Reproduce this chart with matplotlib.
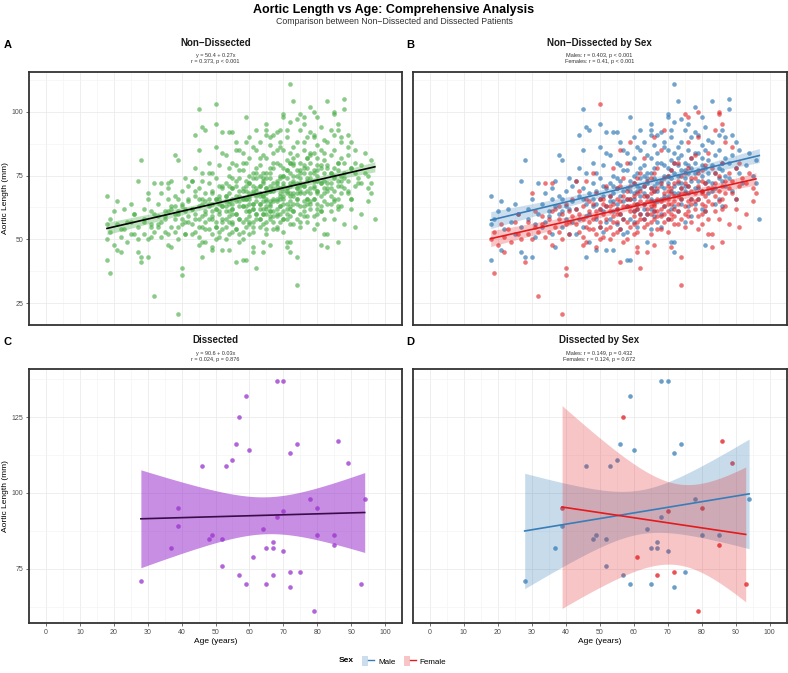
import numpy as np
import matplotlib.pyplot as plt
from matplotlib.patches import Patch
from matplotlib.lines import Line2D
from matplotlib.legend_handler import HandlerTuple

plt.rcParams['font.family'] = ['Liberation Sans', 'DejaVu Sans']

# Non-dissected patients, (age, aortic length in mm)
male_points = [
    (18, 67), (18, 42), (18, 56), (19, 58), (20, 61), (21, 65), (21, 46), (22, 54),
    (23, 62), (24, 57), (25, 52), (25, 64), (26, 60), (27, 73), (27, 45), (27, 55),
    (28, 81), (28, 43), (29, 58), (29, 62), (30, 43), (30, 66), (31, 56), (32, 72), (32, 60), (31, 51),
    (33, 64), (33, 55), (34, 68), (35, 59), (35, 61), (36, 52), (36, 70), (37, 47), (37, 73), (37, 63),
    (34, 57), (36, 66),
    (38, 83), (39, 81), (38, 60), (39, 55), (39, 66), (40, 69), (40, 58), (41, 62), (41, 74), (41, 52),
    (42, 65), (42, 71), (42, 57), (40, 63), (38, 67), (39, 61),
    (44, 91), (45, 85), (45, 101), (46, 94), (47, 93), (46, 43), (43, 73), (43, 62), (44, 58), (44, 67),
    (45, 70), (45, 55), (46, 64), (46, 76), (47, 60), (47, 68), (43, 52), (44, 78), (47, 49), (46, 59), (45, 66),
    (50, 95), (52, 92), (52, 84), (49, 46), (52, 46), (48, 72), (48, 63), (49, 58), (49, 69), (50, 66),
    (50, 74), (50, 55), (51, 61), (51, 79), (51, 67), (52, 70), (52, 57), (48, 80), (49, 76), (50, 62),
    (51, 53), (48, 66), (49, 64), (51, 71), (52, 63), (50, 86),
    (54, 92), (55, 92), (54, 46), (53, 65), (53, 72), (53, 58), (54, 68), (54, 75), (54, 61), (55, 70),
    (55, 64), (55, 80), (55, 56), (56, 67), (56, 73), (56, 88), (56, 60), (57, 69), (57, 77), (57, 52),
    (57, 65), (53, 83), (54, 71), (55, 62), (56, 79), (57, 58), (53, 67), (56, 54), (57, 85), (55, 74), (54, 65),
    (58, 42), (59, 42), (59, 98), (60, 90), (58, 70), (58, 63), (58, 77), (59, 66), (59, 73), (59, 58),
    (60, 68), (60, 61), (60, 82), (60, 75), (61, 71), (61, 55), (61, 64), (61, 86), (62, 70), (62, 78),
    (62, 60), (62, 67), (58, 84), (59, 80), (60, 57), (61, 76), (62, 93), (58, 66), (59, 69), (60, 72),
    (61, 62), (62, 74), (58, 53), (60, 66), (62, 85), (61, 69),
    (65, 95), (65, 93), (65, 91), (63, 71), (63, 64), (63, 79), (63, 58), (64, 72), (64, 67), (64, 83),
    (64, 60), (65, 70), (65, 76), (65, 62), (65, 54), (66, 74), (66, 69), (66, 87), (66, 61), (67, 72),
    (67, 80), (67, 65), (67, 57), (63, 88), (64, 76), (65, 66), (66, 78), (67, 91), (63, 68), (64, 74),
    (66, 65), (67, 84), (63, 75), (64, 49), (66, 71), (67, 69), (65, 82), (63, 62), (66, 59),
    (72, 111), (70, 99), (70, 98), (71, 49), (72, 49), (72, 45), (72, 96), (68, 73), (68, 66), (68, 80),
    (68, 60), (69, 75), (69, 70), (69, 86), (69, 63), (70, 72), (70, 78), (70, 67), (70, 58), (71, 74),
    (71, 81), (71, 69), (71, 90), (72, 76), (72, 71), (72, 63), (72, 84), (68, 92), (69, 79), (70, 85),
    (71, 62), (68, 71), (69, 67), (70, 75), (71, 77), (72, 68), (68, 55), (69, 88), (71, 93), (72, 80),
    (73, 104), (74, 97), (73, 75), (73, 68), (73, 82), (73, 61), (74, 77), (74, 72), (74, 88), (74, 64),
    (75, 74), (75, 80), (75, 69), (75, 93), (75, 57), (76, 76), (76, 71), (76, 85), (76, 63), (77, 78),
    (77, 73), (77, 90), (77, 66), (73, 79), (74, 83), (75, 71), (76, 95), (77, 59), (73, 86), (74, 70),
    (75, 77), (76, 68), (77, 82), (74, 66), (76, 79), (73, 72),
    (78, 102), (80, 98), (81, 48), (78, 76), (78, 70), (78, 84), (78, 64), (79, 77), (79, 73), (79, 91),
    (79, 66), (80, 75), (80, 82), (80, 69), (80, 87), (81, 78), (81, 72), (81, 94), (81, 61), (82, 76),
    (82, 81), (82, 68), (82, 89), (78, 80), (79, 84), (80, 62), (81, 85), (82, 73), (79, 70), (80, 79), (78, 92),
    (83, 104), (85, 91), (83, 79), (83, 72), (83, 88), (84, 76), (84, 70), (84, 83), (85, 78), (85, 66),
    (85, 85), (86, 80), (86, 73), (86, 93), (86, 63), (87, 82), (87, 75), (87, 90), (84, 64), (85, 74),
    (83, 69), (87, 71), (86, 77),
    (88, 105), (88, 101), (88, 80), (88, 74), (89, 83), (89, 69), (90, 78), (90, 88), (91, 76), (91, 85),
    (92, 72), (89, 91), (90, 66),
    (97, 58), (93, 79), (94, 84), (95, 75), (96, 81), (96, 72),
]

female_points = [
    (19, 37), (18, 50), (19, 53), (20, 48), (21, 56), (22, 51), (22, 45),
    (23, 54), (24, 49), (25, 57), (26, 52), (26, 60), (27, 50),
    (32, 28), (28, 41), (30, 68), (29, 52), (29, 57), (30, 50), (31, 55), (31, 61), (32, 53),
    (34, 72), (36, 72), (33, 56), (34, 51), (35, 58), (35, 53), (36, 48), (36, 61), (37, 55), (37, 62), (33, 59),
    (39, 21), (40, 39), (40, 36), (38, 58), (38, 53), (39, 60), (39, 50), (40, 56), (40, 64), (41, 57),
    (41, 52), (42, 59), (42, 66), (41, 61), (38, 63),
    (43, 73), (46, 73), (46, 49), (43, 56), (44, 60), (44, 53), (45, 58), (45, 63), (45, 51), (46, 66),
    (47, 57), (47, 61), (47, 54), (44, 69), (43, 62), (46, 55), (45, 48), (47, 65),
    (50, 103), (49, 47), (49, 52), (48, 58), (48, 64), (48, 54), (49, 61), (49, 68), (50, 57), (50, 62),
    (50, 55), (51, 60), (51, 66), (51, 51), (52, 58), (52, 71), (52, 63), (48, 76), (50, 50), (51, 64),
    (52, 54), (49, 59), (50, 66),
    (56, 41), (53, 61), (53, 55), (53, 67), (54, 59), (54, 64), (54, 52), (55, 62), (55, 57), (55, 70),
    (56, 60), (56, 65), (56, 54), (57, 63), (57, 58), (57, 74), (53, 50), (54, 78), (55, 66), (56, 71),
    (57, 49), (53, 63), (54, 57), (55, 60), (56, 85), (57, 67), (55, 53),
    (62, 39), (61, 47), (61, 45), (58, 63), (58, 57), (58, 69), (59, 61), (59, 66), (59, 55), (60, 64),
    (60, 59), (60, 72), (60, 52), (61, 62), (61, 68), (61, 57), (62, 65), (62, 60), (62, 76), (58, 80),
    (59, 71), (60, 67), (61, 53), (62, 58), (58, 50), (59, 63), (60, 61), (61, 74), (62, 69), (59, 88),
    (60, 56), (58, 66), (61, 64),
    (64, 45), (66, 48), (63, 64), (63, 58), (63, 71), (64, 62), (64, 67), (64, 56), (65, 65), (65, 60),
    (65, 74), (65, 52), (66, 63), (66, 69), (66, 58), (67, 66), (67, 61), (67, 78), (63, 82), (64, 73),
    (65, 57), (66, 76), (67, 54), (63, 67), (64, 60), (65, 68), (66, 64), (67, 70), (63, 55), (65, 63),
    (66, 90), (67, 59), (64, 65), (65, 70), (66, 61),
    (68, 65), (68, 59), (68, 72), (69, 63), (69, 68), (69, 57), (70, 66), (70, 61), (70, 75), (70, 53),
    (71, 64), (71, 70), (71, 58), (72, 67), (72, 62), (72, 80), (68, 85), (69, 74), (70, 69), (71, 60),
    (72, 56), (68, 62), (69, 66), (70, 71), (71, 77), (72, 65), (68, 54), (69, 93), (70, 64), (71, 68),
    (72, 59), (69, 60), (71, 47), (70, 58), (72, 72),
    (74, 32), (74, 43), (75, 99), (76, 98), (73, 67), (73, 61), (73, 73), (74, 66), (74, 70), (74, 58),
    (75, 68), (75, 63), (75, 76), (75, 55), (76, 65), (76, 71), (76, 61), (77, 69), (77, 64), (77, 82),
    (73, 80), (74, 75), (75, 60), (76, 78), (77, 57), (73, 64), (74, 68), (75, 72), (76, 59), (77, 74),
    (73, 56), (76, 88), (77, 66),
    (79, 100), (78, 68), (78, 62), (78, 74), (79, 66), (79, 71), (79, 59), (80, 69), (80, 64), (80, 77),
    (80, 56), (81, 67), (81, 72), (81, 61), (82, 70), (82, 65), (82, 84), (78, 83), (79, 76), (80, 60),
    (81, 79), (82, 58), (78, 65), (79, 90), (80, 73), (81, 63), (82, 52), (80, 68), (79, 54),
    (83, 47), (86, 49), (83, 52), (85, 100), (85, 99), (86, 95), (84, 93), (87, 88), (83, 70), (83, 64),
    (84, 72), (84, 67), (85, 69), (85, 75), (86, 66), (86, 71), (87, 73), (87, 63), (83, 78), (84, 61),
    (85, 58), (86, 80), (87, 68), (84, 76), (85, 65), (86, 62),
    (88, 56), (91, 55), (88, 70), (88, 76), (89, 68), (89, 73), (90, 66), (90, 78), (91, 71), (92, 74),
    (89, 86), (90, 62), (91, 80),
    (93, 60), (95, 65), (93, 72), (94, 76), (95, 70), (96, 68),
]

# Dissected patients
dis_age = [28, 37, 39, 39, 46, 48, 49, 52, 52, 53, 55, 56, 57, 57, 59, 59, 60, 61, 64, 65, 65, 67,
           67, 67, 68, 68, 70, 70, 70, 72, 72, 72, 74, 75, 78, 79, 80, 80, 85, 85, 86, 89, 93, 94]
dis_len = [71, 82, 95, 89, 109, 85, 86, 85, 76, 109, 111, 116, 125, 73, 132, 70, 114, 79, 88, 82, 70, 84,
           82, 73, 137, 92, 137, 94, 81, 113, 74, 69, 116, 74, 98, 61, 95, 86, 86, 83, 117, 110, 70, 98]
dis_sex = ['M', 'M', 'F', 'M', 'M', 'M', 'M', 'M', 'M', 'M', 'M', 'M', 'F', 'M', 'M', 'M', 'M', 'F', 'M', 'M', 'M', 'M',
           'M', 'F', 'M', 'M', 'M', 'F', 'M', 'M', 'F', 'M', 'M', 'M', 'M', 'F', 'F', 'M', 'M', 'F', 'F', 'F', 'F', 'M']

# Panel titles and stats
titles = ['Non\u2212Dissected', 'Non\u2212Dissected by Sex', 'Dissected', 'Dissected by Sex']
stats = ['y = 50.4 + 0.27x\nr = 0.373, p < 0.001',
         'Males: r = 0.403, p < 0.001\nFemales: r = 0.41, p < 0.001',
         'y = 90.6 + 0.03x\nr = 0.024, p = 0.876',
         'Males: r = 0.149, p = 0.432\nFemales: r = 0.124, p = 0.672']
letters = ['A', 'B', 'C', 'D']

green = '#4DAF4A'
blue = '#377EB8'
red = '#E41A1C'
purple = '#9932CC'

W, H = 788, 673


def t_quantile(df, z=1.959964):
    # Cornish-Fisher approximation of the 97.5% t quantile
    return z + (z**3 + z) / (4 * df) + (5 * z**5 + 16 * z**3 + 3 * z) / (96 * df**2)


def fit_band(x, y):
    x = np.asarray(x, float)
    y = np.asarray(y, float)
    n = len(x)
    b, a = np.polyfit(x, y, 1)
    xs = np.linspace(x.min(), x.max(), 80)
    fit = a + b * xs
    resid = y - (a + b * x)
    s = np.sqrt(np.sum(resid**2) / (n - 2))
    sxx = np.sum((x - x.mean())**2)
    se = s * np.sqrt(1 / n + (xs - x.mean())**2 / sxx)
    t = t_quantile(n - 2)
    return xs, fit, fit - t * se, fit + t * se


def expand(vals):
    lo, hi = min(vals), max(vals)
    pad = (hi - lo) * 0.05
    return lo - pad, hi + pad


def style(ax, ylim, yticks, show_x, show_y):
    ax.set_xlim(-5, 105)
    ax.set_xticks(np.arange(0, 101, 10))
    ax.set_xticks(np.arange(5, 101, 10), minor=True)
    ax.set_yticks(yticks)
    ax.set_yticks(list(np.array(yticks) + 12.5) + [yticks[0] - 12.5], minor=True)
    ax.set_ylim(*ylim)
    ax.grid(which='major', color='#EBEBEB', lw=0.6)
    ax.grid(which='minor', color='#F2F2F2', lw=0.4)
    ax.set_axisbelow(True)
    for sp in ax.spines.values():
        sp.set_color('#333333')
        sp.set_linewidth(1.3)
    ax.tick_params(which='major', length=2.5, width=0.5, color='#333333',
                   labelsize=5, labelcolor='#4D4D4D', pad=1.5)
    ax.tick_params(which='minor', length=0)
    if not show_x:
        ax.tick_params(axis='x', which='major', length=0, labelbottom=False)
    else:
        ax.set_xlabel('Age (years)', fontsize=6, labelpad=2)
    if not show_y:
        ax.tick_params(axis='y', which='major', length=0, labelleft=False)
    else:
        ax.set_ylabel('Aortic Length (mm)', fontsize=6, labelpad=2)


male_age = [p[0] for p in male_points]
male_len = [p[1] for p in male_points]
female_age = [p[0] for p in female_points]
female_len = [p[1] for p in female_points]
all_age = male_age + female_age
all_len = male_len + female_len

fig = plt.figure(figsize=(W / 100, H / 100), dpi=100)

left_x, right_x = 29 / W, 412.5 / W
pw_l, pw_r = 373 / W, 374 / W
top_b, top_h = 1 - 325 / H, 253 / H
bot_b, bot_h = 1 - 623 / H, 254 / H

axA = fig.add_axes([left_x, top_b, pw_l, top_h])
axB = fig.add_axes([right_x, top_b, pw_r, top_h])
axC = fig.add_axes([left_x, bot_b, pw_l, bot_h])
axD = fig.add_axes([right_x, bot_b, pw_r, bot_h])

ylim_top = expand(all_len)
ylim_bot = expand(dis_len)

# Panel A: all non-dissected
axA.scatter(all_age, all_len, s=11, color=green, alpha=0.65, lw=0)
xs, fit, lo, hi = fit_band(all_age, all_len)
axA.fill_between(xs, lo, hi, color=green, alpha=0.35, lw=0)
axA.plot(xs, fit, color='black', lw=1.2)
style(axA, ylim_top, [25, 50, 75, 100], False, True)

# Panel B: by sex
axB.scatter(male_age, male_len, s=11, color=blue, alpha=0.7, lw=0)
axB.scatter(female_age, female_len, s=11, color=red, alpha=0.6, lw=0)
for ages, lens, col in [(male_age, male_len, blue), (female_age, female_len, red)]:
    xs, fit, lo, hi = fit_band(ages, lens)
    axB.fill_between(xs, lo, hi, color=col, alpha=0.25, lw=0)
    axB.plot(xs, fit, color=col, lw=1.2)
style(axB, ylim_top, [25, 50, 75, 100], False, False)

# Panel C: dissected
axC.scatter(dis_age, dis_len, s=11, color=purple, alpha=0.75, lw=0)
xs, fit, lo, hi = fit_band(dis_age, dis_len)
axC.fill_between(xs, lo, hi, color=purple, alpha=0.55, lw=0)
axC.plot(xs, fit, color='#3B0B4B', lw=1.2)
style(axC, ylim_bot, [75, 100, 125], True, True)

# Panel D: dissected by sex
groups = []
for sx, col, fa in [('M', blue, 0.28), ('F', red, 0.25)]:
    a = [dis_age[i] for i in range(len(dis_age)) if dis_sex[i] == sx]
    l = [dis_len[i] for i in range(len(dis_len)) if dis_sex[i] == sx]
    groups.append((a, l, col, fa))
    axD.scatter(a, l, s=11, color=col, alpha=0.75, lw=0)
for a, l, col, fa in groups:
    xs, fit, lo, hi = fit_band(a, l)
    axD.fill_between(xs, lo, hi, color=col, alpha=fa, lw=0)
    axD.plot(xs, fit, color=col, lw=1.2)
style(axD, ylim_bot, [75, 100, 125], True, False)

# Titles and annotations
for ax, title, st, letter, tx, top_px in [
        (axA, titles[0], stats[0], letters[0], 8, 72),
        (axB, titles[1], stats[1], letters[1], 410, 72),
        (axC, titles[2], stats[2], letters[2], 8, 369),
        (axD, titles[3], stats[3], letters[3], 410, 369)]:
    pos = ax.get_position()
    cx = (pos.x0 + pos.x1) / 2
    fig.text(cx, 1 - (top_px - 29) / H, title, ha='center', va='center',
             fontsize=7, fontweight='bold', color='#1A1A1A')
    fig.text(cx, 1 - (top_px - 13) / H, st, ha='center', va='center',
             fontsize=4, color='#333333', linespacing=1.25)
    fig.text(tx / W, 1 - (top_px - 27) / H, letter, ha='center', va='center',
             fontsize=8, fontweight='bold')

fig.text(0.5, 1 - 10 / H, 'Aortic Length vs Age: Comprehensive Analysis',
         ha='center', va='center', fontsize=9, fontweight='bold')
fig.text(0.5, 1 - 22 / H, 'Comparison between Non\u2212Dissected and Dissected Patients',
         ha='center', va='center', fontsize=6.3, color='#333333')

# Legend at the bottom
handles = [(Patch(facecolor=blue, alpha=0.25, lw=0), Line2D([], [], color=blue, lw=1)),
           (Patch(facecolor=red, alpha=0.25, lw=0), Line2D([], [], color=red, lw=1))]
fig.text(346 / W, 1 - 661 / H, 'Sex', ha='center', va='center', fontsize=6, fontweight='bold')
fig.legend(handles, ['Male', 'Female'], loc='center left', bbox_to_anchor=(358 / W, 1 - 661 / H),
           ncol=2, frameon=False, fontsize=5.8, handlelength=1.5, handleheight=1.5,
           columnspacing=1.0, handletextpad=0.5, borderpad=0,
           handler_map={tuple: HandlerTuple(ndivide=None)})

fig.savefig('out.png', dpi=100)
